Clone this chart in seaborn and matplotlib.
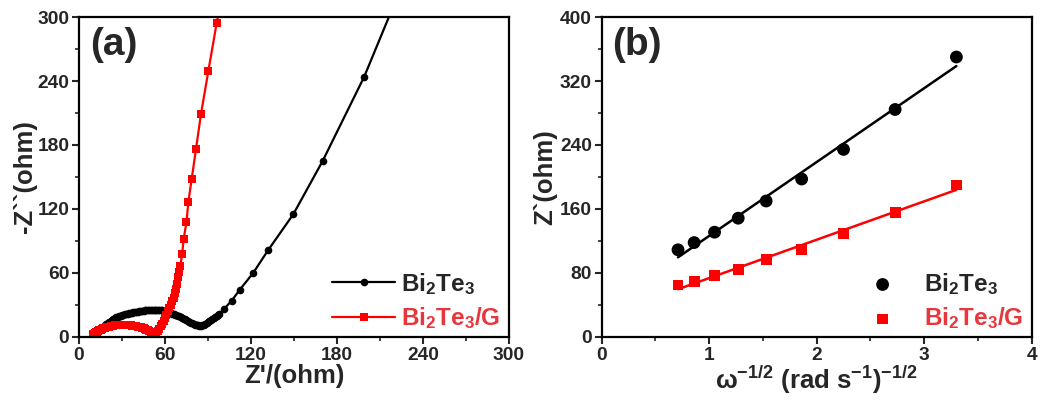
import numpy as np
import pandas as pd
import matplotlib
matplotlib.use("Agg")
import matplotlib.pyplot as plt
import seaborn as sns
from matplotlib.ticker import MultipleLocator

# ---------------- data ----------------
# Panel (a): Nyquist plot
bt_zre = [12, 13, 14, 15, 16, 17, 18, 19, 20, 21, 22, 23, 24, 25, 26, 27, 28, 29, 30, 31,
          32, 33, 34, 35, 36, 37, 38, 39, 40, 41, 42, 43, 44, 45, 46, 47, 48, 49, 50, 51,
          52, 53, 54, 55, 56, 57, 58, 59, 60, 61, 62, 63, 64, 65, 66, 67, 68, 69, 70, 71,
          72, 73, 74, 75, 76, 77, 78, 79, 80, 81, 82, 83, 84, 85, 86, 87, 88, 89, 90, 91,
          92, 93, 94, 95, 96, 97, 98, 101, 106.5, 112, 121.5, 132, 149.5, 170, 199, 231]
bt_zim = [3, 4.5, 6, 7.2, 8.5, 9.8, 11, 12, 13, 14, 15, 16, 17, 17.8, 18.5, 19, 19.5, 20, 20.5, 21,
          21.5, 21.8, 22, 22.2, 22.5, 22.8, 23, 23.2, 23.5, 23.8, 24, 24.2, 24.5, 24.8, 25, 25, 25, 25.2, 25.5, 25.5,
          25.5, 25.5, 25.5, 25.5, 25.5, 25.2, 25, 24.8, 24.5, 24, 23.5, 23, 22.5, 22, 21.5, 21, 20.5, 20, 19.5, 18.8,
          18, 17.2, 16.5, 15.8, 15, 14.2, 13.5, 12.8, 12, 11.5, 11, 10.8, 10.5, 10.6, 11, 11.7, 12.5, 13.5, 14.5, 15.2,
          16, 17, 18, 19, 20, 21, 22, 26, 34, 44, 60, 81.5, 115, 165, 244, 348]

btg_zre = [10, 11, 12, 13, 14, 15, 16, 17, 18, 19, 20, 21, 22, 23, 24, 25, 26, 27, 28, 29,
           30, 31, 32, 33, 34, 35, 36, 37, 38, 39, 40, 41, 42, 43, 44, 45, 46, 47, 48, 49,
           50, 51, 52, 53, 54, 55, 56, 57, 58, 59, 60, 61, 62, 63, 64, 65, 66, 67, 67.8, 68.5,
           69.3, 70, 70.7, 72, 73, 75, 76.3, 78.6, 81.6, 85.1, 90.2, 96, 103]
btg_zim = [3, 4, 5, 5.8, 6.5, 7, 7.5, 8, 8.5, 9, 9.5, 9.8, 10, 10.2, 10.5, 10.8, 11, 11, 11, 11.1,
           11.2, 11.2, 11.2, 11.1, 11, 10.9, 10.8, 10.6, 10.5, 10.2, 10, 9.8, 9.5, 9, 8.5, 8, 7.5, 7, 6.5, 5.8,
           5, 4.5, 4, 3.7, 3.5, 5.5, 7.5, 10, 12.5, 15, 18, 21, 24, 27, 30, 33.5, 37, 41, 45, 50,
           56, 61, 67, 78, 91.6, 108, 126.6, 148, 176, 209, 249, 294, 340]

# Panel (b): Z' vs omega^-1/2
omega = [0.71, 0.86, 1.05, 1.27, 1.53, 1.86, 2.25, 2.73, 3.30]
bt_zre_b = [109, 118, 131, 148.5, 170, 197.5, 234.5, 284.4, 350]
btg_zre_b = [65, 69, 76.5, 84.8, 96.4, 109.8, 129.7, 156, 190]

label_bt = r"$\mathbf{Bi}_{\mathbf{2}}\mathbf{Te}_{\mathbf{3}}$"
label_btg = r"$\mathbf{Bi}_{\mathbf{2}}\mathbf{Te}_{\mathbf{3}}\mathbf{/G}$"

# ---------------- style ----------------
sns.set_theme(style="ticks")
plt.rcParams["font.family"] = ["Liberation Sans", "DejaVu Sans"]
plt.rcParams["font.weight"] = "bold"
plt.rcParams["axes.labelweight"] = "bold"
plt.rcParams["mathtext.fontset"] = "custom"
plt.rcParams["mathtext.rm"] = "Liberation Sans:bold"
plt.rcParams["mathtext.bf"] = "Liberation Sans:bold"
plt.rcParams["mathtext.it"] = "Liberation Sans:bold"

RED = "#ff0000"
RED_TXT = "#e8363c"

fig = plt.figure(figsize=(10.41, 4.03), dpi=100)
axa = fig.add_axes([0.0759, 0.1638, 0.413, 0.794])
axb = fig.add_axes([0.578, 0.1638, 0.413, 0.794])


def style_axis(ax):
    for s in ax.spines.values():
        s.set_linewidth(1.6)
        s.set_color("black")
    ax.tick_params(which="major", direction="out", length=5, width=1.5,
                   labelsize=13.8, top=False, right=False, pad=2)
    ax.tick_params(which="minor", direction="out", length=3, width=1.2,
                   top=False, right=False)
    for lab in ax.get_xticklabels() + ax.get_yticklabels():
        lab.set_fontweight("bold")


# ---------------- panel (a) ----------------
da = pd.DataFrame({"x": bt_zre, "y": bt_zim})
db = pd.DataFrame({"x": btg_zre, "y": btg_zim})
sns.lineplot(data=da, x="x", y="y", sort=False, ax=axa, color="black", lw=1.6,
             marker="o", markersize=5.5, markeredgewidth=0, label=label_bt)
sns.lineplot(data=db, x="x", y="y", sort=False, ax=axa, color=RED, lw=1.6,
             marker="s", markersize=5.5, markeredgewidth=0, label=label_btg)
axa.set_xlim(0, 300)
axa.set_ylim(0, 300)
axa.xaxis.set_major_locator(MultipleLocator(60))
axa.xaxis.set_minor_locator(MultipleLocator(30))
axa.yaxis.set_major_locator(MultipleLocator(60))
axa.yaxis.set_minor_locator(MultipleLocator(30))
axa.set_xlabel("Z'/(ohm)", fontsize=18.5, fontweight="bold", labelpad=0)
axa.set_ylabel("-Z``(ohm)", fontsize=18.5, fontweight="bold", labelpad=0)
style_axis(axa)
axa.text(0.025, 0.97, "(a)", transform=axa.transAxes, fontsize=28,
         fontweight="bold", va="top", ha="left")
leg = axa.legend(loc="lower right", bbox_to_anchor=(1.02, -0.035), frameon=False,
                 fontsize=17.5, handlelength=2.6, handletextpad=0.25,
                 labelspacing=0.35, borderaxespad=0.3)
leg.get_texts()[1].set_color(RED_TXT)

# ---------------- panel (b) ----------------
dfa = pd.DataFrame({"w": omega, "z": bt_zre_b})
dfb = pd.DataFrame({"w": omega, "z": btg_zre_b})
sns.regplot(data=dfa, x="w", y="z", ax=axb, scatter=False, ci=None, truncate=True,
            color="black", line_kws={"lw": 1.8})
sns.regplot(data=dfb, x="w", y="z", ax=axb, scatter=False, ci=None, truncate=True,
            color=RED, line_kws={"lw": 1.8})
sns.scatterplot(data=dfa, x="w", y="z", ax=axb, color="black", marker="o", s=85,
                edgecolor="none", label=label_bt, zorder=3)
sns.scatterplot(data=dfb, x="w", y="z", ax=axb, color=RED, marker="s", s=60,
                edgecolor="none", label=label_btg, zorder=3)
axb.set_xlim(0, 4)
axb.set_ylim(0, 400)
axb.xaxis.set_major_locator(MultipleLocator(1))
axb.xaxis.set_minor_locator(MultipleLocator(0.5))
axb.yaxis.set_major_locator(MultipleLocator(80))
axb.yaxis.set_minor_locator(MultipleLocator(40))
axb.set_xlabel(r"$\mathbf{\omega}^{\mathbf{-1/2}}$ (rad s$^{\mathbf{-1}}$)$^{\mathbf{-1/2}}$",
               fontsize=18.5, fontweight="bold", labelpad=0)
axb.set_ylabel("Z`(ohm)", fontsize=18.5, fontweight="bold", labelpad=2)
style_axis(axb)
axb.text(0.025, 0.97, "(b)", transform=axb.transAxes, fontsize=28,
         fontweight="bold", va="top", ha="left")
legb = axb.legend(loc="lower right", bbox_to_anchor=(1.02, -0.035), frameon=False,
                  fontsize=17.5, handletextpad=0.7, labelspacing=0.35,
                  borderaxespad=0.3, markerscale=1.0)
legb.get_texts()[1].set_color(RED_TXT)

fig.savefig("out.png", dpi=100)
